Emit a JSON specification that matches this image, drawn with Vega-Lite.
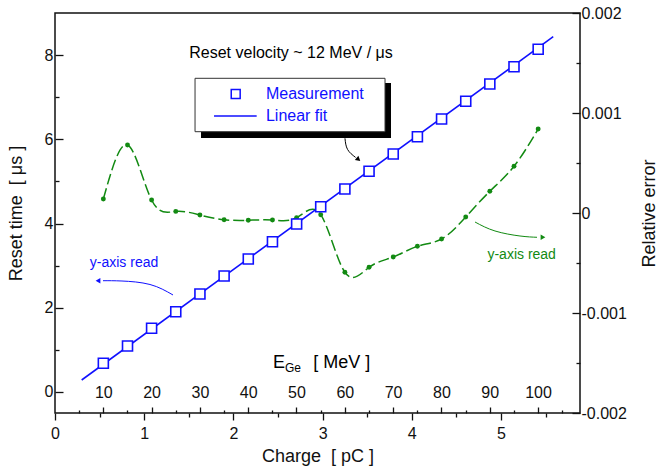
{
  "$schema": "https://vega.github.io/schema/vega-lite/v6.json",
  "width": 525,
  "height": 400,
  "autosize": {"type": "none"},
  "padding": {"left": 55, "top": 13, "right": 79, "bottom": 59},
  "background": "white",
  "datasets": {
    "meas": [
      {"E": 10, "charge": 0.542, "time": 0.680, "rel": 0.00014},
      {"E": 15, "charge": 0.813, "time": 1.091, "rel": 0.00068},
      {"E": 20, "charge": 1.083, "time": 1.512, "rel": 0.00013},
      {"E": 25, "charge": 1.354, "time": 1.906, "rel": 0.000016},
      {"E": 30, "charge": 1.625, "time": 2.326, "rel": -0.00002},
      {"E": 35, "charge": 1.896, "time": 2.754, "rel": -0.000067},
      {"E": 40, "charge": 2.167, "time": 3.158, "rel": -0.000073},
      {"E": 45, "charge": 2.438, "time": 3.568, "rel": -0.00007},
      {"E": 50, "charge": 2.709, "time": 3.989, "rel": -0.000047},
      {"E": 55, "charge": 2.979, "time": 4.400, "rel": -0.000017},
      {"E": 60, "charge": 3.250, "time": 4.820, "rel": -0.000593},
      {"E": 65, "charge": 3.521, "time": 5.240, "rel": -0.000543},
      {"E": 70, "charge": 3.792, "time": 5.651, "rel": -0.00044},
      {"E": 75, "charge": 4.063, "time": 6.062, "rel": -0.000333},
      {"E": 80, "charge": 4.334, "time": 6.483, "rel": -0.00026},
      {"E": 85, "charge": 4.605, "time": 6.903, "rel": -0.00004},
      {"E": 90, "charge": 4.875, "time": 7.314, "rel": 0.000217},
      {"E": 95, "charge": 5.146, "time": 7.724, "rel": 0.000467},
      {"E": 100, "charge": 5.417, "time": 8.138, "rel": 0.00084}
    ],
    "fit": [
      {"charge": 0.299, "time": 0.284},
      {"charge": 5.586, "time": 8.437}
    ],
    "arrowBlack": [
      {"charge": 3.251, "time": 6.024},
      {"charge": 3.280, "time": 5.760},
      {"charge": 3.370, "time": 5.570}
    ],
    "arrowBlue": [
      {"charge": 1.323, "time": 2.303},
      {"charge": 1.065, "time": 2.552},
      {"charge": 0.751, "time": 2.635},
      {"charge": 0.538, "time": 2.642}
    ],
    "arrowGreen": [
      {"charge": 4.709, "time": 4.036},
      {"charge": 4.933, "time": 3.823},
      {"charge": 5.213, "time": 3.704},
      {"charge": 5.404, "time": 3.673}
    ],
    "legendLine": [
      {"charge": 1.783, "time": 6.554},
      {"charge": 2.261, "time": 6.554}
    ]
  },
  "layer": [
    {
      "data": {"values": [{}]},
      "mark": {"type": "rect", "color": "black"},
      "encoding": {
        "x": {"datum": 1.637, "type": "quantitative", "scale": {"domain": [0, 5.886], "nice": false, "zero": false}, "axis": null},
        "x2": {"datum": 3.767},
        "y": {"datum": 7.338, "type": "quantitative", "scale": {"domain": [-0.5, 9], "nice": false, "zero": false}, "axis": null},
        "y2": {"datum": 6.031}
      }
    },
    {
      "data": {"values": [{}]},
      "mark": {"type": "rect", "fill": "white", "stroke": "#333333", "strokeWidth": 1},
      "encoding": {
        "x": {"datum": 1.570, "type": "quantitative", "scale": {"domain": [0, 5.886], "nice": false, "zero": false}, "axis": null},
        "x2": {"datum": 3.700},
        "y": {"datum": 7.449, "type": "quantitative", "scale": {"domain": [-0.5, 9], "nice": false, "zero": false}, "axis": null},
        "y2": {"datum": 6.181}
      }
    },
    {
      "data": {"name": "meas"},
      "mark": {"type": "line", "interpolate": "natural", "color": "#128a12", "strokeWidth": 1.5, "strokeDash": [11, 4]},
      "encoding": {
        "x": {"field": "charge", "type": "quantitative", "scale": {"domain": [0, 5.886], "nice": false, "zero": false},
          "axis": {"orient": "bottom", "values": [0, 1, 2, 3, 4, 5], "tickSize": 7, "labelPadding": 5, "labelFontSize": 16,
            "title": "Charge\u00a0\u00a0[ pC ]", "titleFontSize": 18, "titlePadding": 6, "labelBaseline": "top"}},
        "y": {"field": "rel", "type": "quantitative", "scale": {"domain": [-0.002, 0.002], "nice": false, "zero": false},
          "axis": {"orient": "right", "values": [-0.002, -0.001, 0, 0.001, 0.002], "tickSize": -8, "labelPadding": 9,
            "labelExpr": "datum.value == 0 ? '0' : replace(format(datum.value, '.3f'), '\u2212', '-')",
            "labelFontSize": 16, "labelAlign": "left", "labelBaseline": "middle",
            "title": "Relative error", "titleFontSize": 18, "titleAngle": -90, "titlePadding": 32}}
      }
    },
    {
      "data": {"name": "meas"},
      "mark": {"type": "point", "filled": true, "color": "#128a12", "size": 24, "opacity": 1},
      "encoding": {
        "x": {"field": "charge", "type": "quantitative", "scale": {"domain": [0, 5.886], "nice": false, "zero": false}, "axis": null},
        "y": {"field": "rel", "type": "quantitative", "scale": {"domain": [-0.002, 0.002], "nice": false, "zero": false},
          "axis": {"orient": "right", "values": [-0.0015, -0.0005, 0.0005, 0.0015], "tickSize": -4, "labels": false, "title": null}}
      }
    },
    {
      "data": {"name": "fit"},
      "mark": {"type": "line", "color": "#1010ff", "strokeWidth": 1.6},
      "encoding": {
        "x": {"field": "charge", "type": "quantitative", "scale": {"domain": [0, 5.886], "nice": false, "zero": false},
          "axis": {"orient": "bottom", "values": [0.5, 1.5, 2.5, 3.5, 4.5, 5.5], "tickSize": 4, "labels": false, "title": null}},
        "y": {"field": "time", "type": "quantitative", "scale": {"domain": [-0.5, 9], "nice": false, "zero": false},
          "axis": {"orient": "left", "values": [0, 2, 4, 6, 8], "tickSize": -8, "labelPadding": 10, "labelFontSize": 16,
            "labelAlign": "right", "labelBaseline": "middle",
            "title": "Reset time\u00a0\u00a0[ μs ]", "titleFontSize": 18, "titlePadding": 19}}
      }
    },
    {
      "data": {"name": "meas"},
      "mark": {"type": "point", "shape": "square", "size": 100, "fill": "white", "stroke": "#1010ff", "strokeWidth": 1.6, "opacity": 1, "filled": true},
      "encoding": {
        "x": {"field": "charge", "type": "quantitative", "scale": {"domain": [0, 5.886], "nice": false, "zero": false}, "axis": null},
        "y": {"field": "time", "type": "quantitative", "scale": {"domain": [-0.5, 9], "nice": false, "zero": false},
          "axis": {"orient": "left", "values": [1, 3, 5, 7], "tickSize": -4, "labels": false, "title": null}}
      }
    },
    {
      "data": {"name": "meas"},
      "mark": {"type": "point", "opacity": 0},
      "encoding": {
        "x": {"field": "E", "type": "quantitative", "scale": {"domain": [0, 108.7], "nice": false, "zero": false},
          "axis": {"orient": "bottom", "values": [10, 20, 30, 40, 50, 60, 70, 80, 90, 100], "tickSize": -6, "labelPadding": -14.5,
            "labelBaseline": "middle", "labelFontSize": 16, "title": null}},
        "y": {"field": "time", "type": "quantitative", "scale": {"domain": [-0.5, 9], "nice": false, "zero": false}, "axis": null}
      }
    },
    {
      "data": {"name": "meas"},
      "mark": {"type": "point", "opacity": 0},
      "encoding": {
        "x": {"field": "E", "type": "quantitative", "scale": {"domain": [0, 108.7], "nice": false, "zero": false},
          "axis": {"orient": "bottom", "values": [5, 15, 25, 35, 45, 55, 65, 75, 85, 95, 105], "tickSize": -3, "labels": false, "title": null}},
        "y": {"field": "time", "type": "quantitative", "scale": {"domain": [-0.5, 9], "nice": false, "zero": false}, "axis": null}
      }
    },
    {
      "data": {"values": [{}]},
      "mark": {"type": "point", "shape": "square", "size": 80, "filled": false, "stroke": "#1010ff", "strokeWidth": 1.5, "opacity": 1},
      "encoding": {
        "x": {"datum": 2.026, "type": "quantitative", "scale": {"domain": [0, 5.886], "nice": false, "zero": false}, "axis": null},
        "y": {"datum": 7.076, "type": "quantitative", "scale": {"domain": [-0.5, 9], "nice": false, "zero": false}, "axis": null}
      }
    },
    {
      "data": {"name": "legendLine"},
      "mark": {"type": "line", "color": "#1010ff", "strokeWidth": 1.6},
      "encoding": {
        "x": {"field": "charge", "type": "quantitative", "scale": {"domain": [0, 5.886], "nice": false, "zero": false}, "axis": null},
        "y": {"field": "time", "type": "quantitative", "scale": {"domain": [-0.5, 9], "nice": false, "zero": false}, "axis": null}
      }
    },
    {
      "data": {"values": [{}]},
      "mark": {"type": "text", "text": "Measurement", "color": "#1010ff", "fontSize": 16, "align": "left", "baseline": "middle", "font": "Liberation Sans"},
      "encoding": {
        "x": {"datum": 2.365, "type": "quantitative", "scale": {"domain": [0, 5.886], "nice": false, "zero": false}, "axis": null},
        "y": {"datum": 7.076, "type": "quantitative", "scale": {"domain": [-0.5, 9], "nice": false, "zero": false}, "axis": null}
      }
    },
    {
      "data": {"values": [{}]},
      "mark": {"type": "text", "text": "Linear fit", "color": "#1010ff", "fontSize": 16, "align": "left", "baseline": "middle", "font": "Liberation Sans"},
      "encoding": {
        "x": {"datum": 2.365, "type": "quantitative", "scale": {"domain": [0, 5.886], "nice": false, "zero": false}, "axis": null},
        "y": {"datum": 6.554, "type": "quantitative", "scale": {"domain": [-0.5, 9], "nice": false, "zero": false}, "axis": null}
      }
    },
    {
      "data": {"values": [{}]},
      "mark": {"type": "text", "text": "Reset velocity ~ 12 MeV / μs", "color": "black", "fontSize": 16, "align": "center", "baseline": "middle", "font": "Liberation Sans"},
      "encoding": {
        "x": {"datum": 2.646, "type": "quantitative", "scale": {"domain": [0, 5.886], "nice": false, "zero": false}, "axis": null},
        "y": {"datum": 8.043, "type": "quantitative", "scale": {"domain": [-0.5, 9], "nice": false, "zero": false}, "axis": null}
      }
    },
    {
      "data": {"values": [{}]},
      "mark": {"type": "text", "text": "E", "color": "black", "fontSize": 18, "align": "left", "baseline": "middle", "font": "Liberation Sans"},
      "encoding": {
        "x": {"datum": 2.444, "type": "quantitative", "scale": {"domain": [0, 5.886], "nice": false, "zero": false}, "axis": null},
        "y": {"datum": 0.688, "type": "quantitative", "scale": {"domain": [-0.5, 9], "nice": false, "zero": false}, "axis": null}
      }
    },
    {
      "data": {"values": [{}]},
      "mark": {"type": "text", "text": "Ge", "color": "black", "fontSize": 12, "align": "left", "baseline": "middle", "font": "Liberation Sans"},
      "encoding": {
        "x": {"datum": 2.578, "type": "quantitative", "scale": {"domain": [0, 5.886], "nice": false, "zero": false}, "axis": null},
        "y": {"datum": 0.56, "type": "quantitative", "scale": {"domain": [-0.5, 9], "nice": false, "zero": false}, "axis": null}
      }
    },
    {
      "data": {"values": [{}]},
      "mark": {"type": "text", "text": "[ MeV ]", "color": "black", "fontSize": 18, "align": "left", "baseline": "middle", "font": "Liberation Sans"},
      "encoding": {
        "x": {"datum": 2.896, "type": "quantitative", "scale": {"domain": [0, 5.886], "nice": false, "zero": false}, "axis": null},
        "y": {"datum": 0.688, "type": "quantitative", "scale": {"domain": [-0.5, 9], "nice": false, "zero": false}, "axis": null}
      }
    },
    {
      "data": {"values": [{}]},
      "mark": {"type": "text", "text": "y-axis read", "color": "#1010ff", "fontSize": 14, "align": "center", "baseline": "middle", "font": "Liberation Sans"},
      "encoding": {
        "x": {"datum": 0.774, "type": "quantitative", "scale": {"domain": [0, 5.886], "nice": false, "zero": false}, "axis": null},
        "y": {"datum": 3.055, "type": "quantitative", "scale": {"domain": [-0.5, 9], "nice": false, "zero": false}, "axis": null}
      }
    },
    {
      "data": {"values": [{}]},
      "mark": {"type": "text", "text": "y-axis read", "color": "#128a12", "fontSize": 14, "align": "center", "baseline": "middle", "font": "Liberation Sans"},
      "encoding": {
        "x": {"datum": 5.232, "type": "quantitative", "scale": {"domain": [0, 5.886], "nice": false, "zero": false}, "axis": null},
        "y": {"datum": 3.253, "type": "quantitative", "scale": {"domain": [-0.5, 9], "nice": false, "zero": false}, "axis": null}
      }
    },
    {
      "data": {"name": "arrowBlack"},
      "mark": {"type": "line", "interpolate": "natural", "color": "black", "strokeWidth": 1},
      "encoding": {
        "x": {"field": "charge", "type": "quantitative", "scale": {"domain": [0, 5.886], "nice": false, "zero": false}, "axis": null},
        "y": {"field": "time", "type": "quantitative", "scale": {"domain": [-0.5, 9], "nice": false, "zero": false}, "axis": null}
      }
    },
    {
      "data": {"values": [{}]},
      "mark": {"type": "point", "shape": "triangle-right", "size": 30, "filled": true, "color": "black", "opacity": 1, "angle": 40},
      "encoding": {
        "x": {"datum": 3.402, "type": "quantitative", "scale": {"domain": [0, 5.886], "nice": false, "zero": false}, "axis": null},
        "y": {"datum": 5.521, "type": "quantitative", "scale": {"domain": [-0.5, 9], "nice": false, "zero": false}, "axis": null}
      }
    },
    {
      "data": {"name": "arrowBlue"},
      "mark": {"type": "line", "interpolate": "natural", "color": "#1010ff", "strokeWidth": 1},
      "encoding": {
        "x": {"field": "charge", "type": "quantitative", "scale": {"domain": [0, 5.886], "nice": false, "zero": false}, "axis": null},
        "y": {"field": "time", "type": "quantitative", "scale": {"domain": [-0.5, 9], "nice": false, "zero": false}, "axis": null}
      }
    },
    {
      "data": {"values": [{}]},
      "mark": {"type": "point", "shape": "triangle-left", "size": 30, "filled": true, "color": "#1010ff", "opacity": 1},
      "encoding": {
        "x": {"datum": 0.482, "type": "quantitative", "scale": {"domain": [0, 5.886], "nice": false, "zero": false}, "axis": null},
        "y": {"datum": 2.642, "type": "quantitative", "scale": {"domain": [-0.5, 9], "nice": false, "zero": false}, "axis": null}
      }
    },
    {
      "data": {"name": "arrowGreen"},
      "mark": {"type": "line", "interpolate": "natural", "color": "#128a12", "strokeWidth": 1},
      "encoding": {
        "x": {"field": "charge", "type": "quantitative", "scale": {"domain": [0, 5.886], "nice": false, "zero": false}, "axis": null},
        "y": {"field": "time", "type": "quantitative", "scale": {"domain": [-0.5, 9], "nice": false, "zero": false}, "axis": null}
      }
    },
    {
      "data": {"values": [{}]},
      "mark": {"type": "point", "shape": "triangle-right", "size": 30, "filled": true, "color": "#128a12", "opacity": 1},
      "encoding": {
        "x": {"datum": 5.471, "type": "quantitative", "scale": {"domain": [0, 5.886], "nice": false, "zero": false}, "axis": null},
        "y": {"datum": 3.673, "type": "quantitative", "scale": {"domain": [-0.5, 9], "nice": false, "zero": false}, "axis": null}
      }
    }
  ],
  "resolve": {
    "scale": {"x": "independent", "y": "independent"},
    "axis": {"x": "independent", "y": "independent"}
  },
  "config": {
    "view": {"stroke": "#111111", "strokeWidth": 1.5},
    "font": "Liberation Sans",
    "axis": {
      "grid": false,
      "domain": false,
      "ticks": true,
      "tickColor": "#111111",
      "tickWidth": 1.3,
      "labelColor": "#111111",
      "titleColor": "#111111",
      "labelFont": "Liberation Sans",
      "titleFont": "Liberation Sans",
      "titleFontWeight": "normal",
      "labelFlush": false,
      "labelOverlap": false,
      "labelBound": false
    }
  }
}
